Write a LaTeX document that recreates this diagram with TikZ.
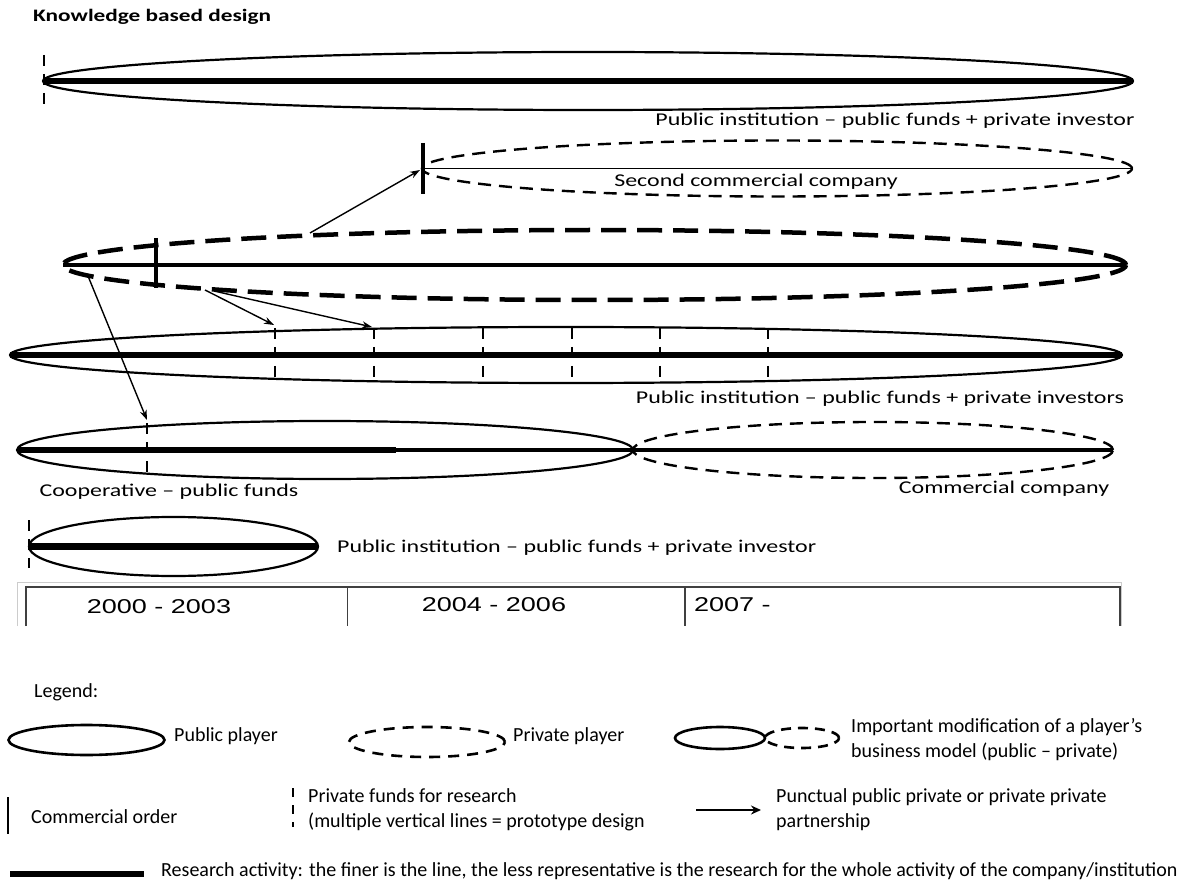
\documentclass[tikz,border=0pt]{standalone}
\usepackage{fontspec}
\setmainfont{Carlito}
\newfontfamily\lab{Carlito}[FakeStretch=1.33,Ligatures=TeX]
\newfontfamily\tabf{Liberation Sans}[FakeStretch=1.35]
\usetikzlibrary{shapes.geometric,arrows.meta}
\tikzset{
  pub/.style={ellipse, draw, line width=2.2pt, inner sep=0pt, outer sep=0pt},
  priv/.style={ellipse, draw, line width=2.4pt, dash pattern=on 13pt off 8pt, inner sep=0pt, outer sep=0pt},
  privthick/.style={ellipse, draw, line width=4.5pt, dash pattern=on 25pt off 11pt, inner sep=0pt, outer sep=0pt},
  research/.style={line width=6.5pt},
  midline/.style={line width=3.2pt},
  thinline/.style={line width=1.6pt},
  fund/.style={line width=2.6pt, dash pattern=on 11pt off 8pt},
  order/.style={line width=3.5pt},
  partner/.style={line width=1.4pt, -{Stealth[length=10pt,width=7pt]}},
  lbl/.style={inner sep=0pt, font=\lab\fontsize{18}{22}\selectfont},
  lbold/.style={inner sep=0pt, font=\lab\bfseries\fontsize{17.5}{22}\selectfont},
  leg/.style={inner sep=0pt, align=left, font=\fontsize{20}{25}\selectfont},
  yr/.style={inner sep=0pt, font=\tabf\fontsize{20}{24}\selectfont},
}
\begin{document}
\begin{tikzpicture}[x=1pt,y=-1pt]
\useasboundingbox (0,0) rectangle (1202,882);
% title
\node[lbold, anchor=west] (title) at (33,17) {Knowledge based design};
% E1
\node[pub, minimum width=1090pt, minimum height=58pt] (e1) at (588,81) {};
\draw[research] (e1.west) -- (e1.east);
\draw[fund] (44,55) -- (44,108);
\node[lbl] (l1) at (895,121) {Public institution – public funds + private investor};
% E2 second commercial company
\node[priv, minimum width=710pt, minimum height=56pt] (e2) at (777,168.5) {};
\draw[thinline] (e2.west) -- (e2.east);
\draw[order] (423,143) -- (423,194);
\coordinate (o2) at (420,170);
\node[lbl] (l2) at (756,182) {Second commercial company};
% E3
\node[privthick, minimum width=1063pt, minimum height=70pt] (e3) at (594.5,265) {};
\draw[midline] (e3.west) -- (e3.east);
\draw[order] (156,238) -- (156,288);
% E4
\node[pub, minimum width=1112pt, minimum height=56pt] (e4) at (566,355) {};
\draw[research] (e4.west) -- (e4.east);
\foreach \x in {275,374,483,572,660,768} \draw[fund] (\x,328) -- (\x,383);
\node[lbl] (l4) at (880,399) {Public institution – public funds + private investors};
% E5 cooperative
\node[pub, minimum width=616pt, minimum height=58pt] (e5) at (325,450) {};
\coordinate (r5) at (396,450);
\draw[research] (e5.west) -- (r5);
\draw[fund] (147,423) -- (147,474);
% E6 commercial company
\node[priv, minimum width=480pt, minimum height=56pt] (e6) at (873,450) {};
\draw[midline] (r5) -- (e6.east);
\node[lbl] (l5) at (169,492) {Cooperative – public funds};
\node[lbl] (l6) at (1004,489) {Commercial company};
% E7
\node[pub, minimum width=289pt, minimum height=59pt] (e7) at (173.5,546.5) {};
\draw[research] (e7.west) -- (e7.east);
\draw[fund] (29,520) -- (29,568);
\node[lbl, anchor=west] (l7) at (337,548) {Public institution – public funds + private investor};
% arrows
\coordinate (a1s) at (310,233);
\coordinate (a2s) at (205,290);
\coordinate (a2e) at (274,325);
\coordinate (a3s) at (214,291);
\coordinate (a3e) at (372,327);
\coordinate (a4s) at (88,276);
\coordinate (a4e) at (147,420);
\draw[partner] (a1s) -- (o2);
\draw[partner] (a2s) -- (a2e);
\draw[partner] (a3s) -- (a3e);
\draw[partner] (a4s) -- (a4e);
% table
\draw[gray!40, line width=1pt] (17,626) -- (17,582) -- (1121,582) -- (1121,626);
\draw[black!75, line width=1.4pt] (26,626) -- (26,587) -- (1120,587) -- (1120,626);
\draw[black!75, line width=1.4pt] (347.5,587) -- (347.5,626);
\draw[black!75, line width=1.4pt] (685,587) -- (685,626);
\node[yr] (t1) at (159,607) {2000 - 2003};
\node[yr] (t2) at (494,605) {2004 - 2006};
\node[yr, anchor=west] (t3) at (694,605) {2007 -};
% legend
\node[leg, anchor=west] (lg) at (34,692) {Legend:};
\node[pub, line width=2.6pt, minimum width=156pt, minimum height=30pt] (g1) at (86.5,740) {};
\node[leg, anchor=west] (g1t) at (174,736) {Public player};
\node[priv, line width=2.6pt, dash pattern=on 11pt off 8pt, minimum width=156pt, minimum height=30pt] (g2) at (427,742) {};
\node[leg, anchor=west] (g2t) at (513,736) {Private player};
\node[pub, line width=2.6pt, minimum width=90pt, minimum height=22pt] (g3) at (720,738) {};
\node[priv, line width=2.6pt, dash pattern=on 10pt off 7pt, minimum width=74pt, minimum height=20pt] (g4) at (802,738) {};
\node[leg, anchor=west] (g3t) at (851,740) {Important modification of a player’s\\business model (public – private)};
\draw[line width=2.4pt] (8,797) -- (8,834);
\node[leg, anchor=west] (g5t) at (31,817) {Commercial order};
\draw[line width=2.6pt, dash pattern=on 9pt off 8pt] (293,788) -- (293,827);
\node[leg, anchor=west] (g6t) at (308,810) {Private funds for research\\(multiple vertical lines = prototype design};
\coordinate (g7s) at (696,810);
\coordinate (g7e) at (761,810);
\draw[line width=1.8pt, -{Stealth[length=10pt,width=9pt]}] (g7s) -- (g7e);
\node[leg, anchor=west] (g7t) at (776,810) {Punctual public private or private private\\partnership};
\draw[line width=6pt] (10,874) -- (144,874);
\node[leg, anchor=west] (g8t) at (161,871) {Research activity: the finer is the line, the less representative is the research for the whole activity of the company/institution};
\end{tikzpicture}
\end{document}
